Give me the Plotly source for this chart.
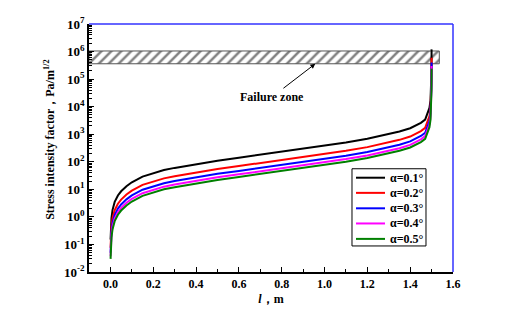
import math
import plotly.graph_objects as go

# ---- data ----
crack_length = [0.0008, 0.002, 0.005, 0.01, 0.02, 0.035, 0.05, 0.075, 0.1, 0.15,
                0.2, 0.25, 0.3, 0.4, 0.5, 0.6, 0.7, 0.8, 0.9, 1.0,
                1.1, 1.2, 1.3, 1.35, 1.4, 1.43, 1.45, 1.47, 1.48, 1.49,
                1.495, 1.498, 1.4995, 1.5]

k_a01 = [0.15, 0.36, 0.9, 1.8, 3.5, 6.0, 8.5, 13, 18, 29,
         39, 50, 60, 83, 110, 140, 180, 230, 290, 380,
         500, 680, 1000, 1250, 1650, 2100, 2600, 3400, 5200, 9000,
         17000, 45000, 200000, 1200000]
k_a02 = [0.075, 0.18, 0.45, 0.9, 1.75, 3.0, 4.25, 6.5, 9, 14.5,
         19.5, 25, 30, 41.5, 55, 70, 90, 115, 145, 190,
         250, 340, 500, 625, 825, 1050, 1300, 1700, 2600, 4500,
         8500, 22500, 100000, 600000]
k_a03 = [0.05, 0.12, 0.3, 0.6, 1.17, 2.0, 2.83, 4.33, 6, 9.67,
         13, 16.7, 20, 27.7, 36.7, 46.7, 60, 76.7, 96.7, 127,
         167, 227, 333, 417, 550, 700, 867, 1130, 1730, 3000,
         5670, 15000, 66700, 400000]
k_a04 = [0.0375, 0.09, 0.225, 0.45, 0.875, 1.5, 2.125, 3.25, 4.5, 7.25,
         9.75, 12.5, 15, 20.75, 27.5, 35, 45, 57.5, 72.5, 95,
         125, 170, 250, 312, 412, 525, 650, 850, 1300, 2250,
         4250, 11250, 50000, 300000]
k_a05 = [0.03, 0.072, 0.18, 0.36, 0.7, 1.2, 1.7, 2.6, 3.6, 5.8,
         7.8, 10, 12, 16.6, 22, 28, 36, 46, 58, 76,
         100, 136, 200, 250, 330, 420, 520, 680, 1040, 1800,
         3400, 9000, 40000, 240000]

series_names = ["α=0.1°", "α=0.2°", "α=0.3°", "α=0.4°", "α=0.5°"]
series_values = [k_a01, k_a02, k_a03, k_a04, k_a05]
series_colors = ["#000000", "#ff0000", "#0000ff", "#ff00ff", "#008000"]

failure_zone_l = [-0.1, 1.536]
failure_zone_k = [3.6e5, 1.05e6]
arrow_target_l = 0.957

y_tick_exponents = [-2, -1, 0, 1, 2, 3, 4, 5, 6, 7]
x_ticks = [0.0, 0.2, 0.4, 0.6, 0.8, 1.0, 1.2, 1.4, 1.6]

FONT = "Liberation Serif"

fig = go.Figure()

# failure zone (hatched box)
zx0, zx1 = failure_zone_l
zy0, zy1 = failure_zone_k
fig.add_trace(go.Scatter(
    x=[zx0, zx1, zx1, zx0, zx0], y=[zy0, zy0, zy1, zy1, zy0],
    mode="lines", fill="toself", fillcolor="white",
    fillpattern=dict(shape="/", fgcolor="#000000", bgcolor="white", size=7, solidity=0.35),
    line=dict(color="#555555", width=1), showlegend=False, hoverinfo="skip"))

for name, vals, col in zip(series_names, series_values, series_colors):
    fig.add_trace(go.Scatter(x=crack_length, y=vals, mode="lines", name=name,
                             line=dict(color=col, width=2), showlegend=False))

# minor log ticks
minor_y = [m * 10.0 ** e for e in y_tick_exponents[:-1] for m in range(2, 10)]

# hand-drawn legend box (paper coordinates)
leg_x0, leg_x1, leg_y0, leg_y1 = 0.7225, 0.9258, 0.105, 0.4163
leg_line_x0, leg_line_x1, leg_text_x = 0.7335, 0.8132, 0.8214
leg_rows = [0.3802, 0.3191, 0.2568, 0.1957, 0.1335]

shapes = [
    dict(type="line", xref="paper", yref="paper", x0=0, x1=1, y0=1, y1=1,
         line=dict(color="#3333ff", width=1.5)),
    dict(type="line", xref="paper", yref="paper", x0=1, x1=1, y0=0, y1=1,
         line=dict(color="#3333ff", width=1.5)),
    dict(type="rect", xref="paper", yref="paper", x0=leg_x0, x1=leg_x1, y0=leg_y0, y1=leg_y1,
         line=dict(color="black", width=1), fillcolor="white", layer="above"),
]
annotations = [
    dict(x=arrow_target_l, y=math.log10(zy0), xref="x", yref="y",
         text="<b>Failure zone</b>",
         showarrow=True, arrowhead=2, arrowsize=1, arrowwidth=1, arrowcolor="black",
         ax=-43, ay=33, font=dict(family=FONT, size=12, color="black")),
    dict(x=-0.107, y=0.533, xref="paper", yref="paper", textangle=-90,
         text="<b>Stress intensity factor，Pa/m<sup>1/2</sup></b>", showarrow=False,
         xanchor="center", yanchor="middle", font=dict(family=FONT, size=12, color="black")),
]
for name, col, ry in zip(series_names, series_colors, leg_rows):
    shapes.append(dict(type="line", xref="paper", yref="paper", x0=leg_line_x0, x1=leg_line_x1,
                       y0=ry, y1=ry, line=dict(color=col, width=2), layer="above"))
    annotations.append(dict(x=leg_text_x, y=ry, xref="paper", yref="paper", text=f"<b>{name}</b>",
                            showarrow=False, xanchor="left", yanchor="middle",
                            font=dict(family=FONT, size=12, color="black")))

# page body has an 8px margin; the figure is sized to compensate
fig.update_layout(
    width=513, height=307,
    margin=dict(l=81, r=68, t=7, b=43),
    plot_bgcolor="white", paper_bgcolor="white",
    font=dict(family=FONT, size=12, color="black"),
    showlegend=False,
    xaxis=dict(
        range=[-0.1, 1.6], tickvals=x_ticks,
        ticktext=[f"{v:.1f}" for v in x_ticks],
        ticks="inside", ticklen=5, tickwidth=1.2, tickcolor="black",
        showline=True, linecolor="black", linewidth=1.5,
        showgrid=False, zeroline=False,
        tickfont=dict(family=FONT, size=12, weight="bold"),
        minor=dict(dtick=0.1, tick0=0, ticks="inside", ticklen=3, tickcolor="black", showgrid=False),
        title=dict(text="<i>l</i>，m", font=dict(family=FONT, size=12, weight="bold"), standoff=4),
    ),
    yaxis=dict(
        type="log", range=[-2, 7],
        tickvals=[10.0 ** e for e in y_tick_exponents],
        ticktext=[f"10<sup>{e}</sup>" for e in y_tick_exponents],
        ticks="inside", ticklen=5, tickwidth=1.2, tickcolor="black",
        showline=True, linecolor="black", linewidth=1.5,
        showgrid=False, zeroline=False, ticklabeloverflow="allow",
        tickfont=dict(family=FONT, size=13, weight="bold"),
        minor=dict(tickvals=minor_y, ticks="inside", ticklen=3, tickcolor="black", showgrid=False),
    ),
    shapes=shapes,
    annotations=annotations,
)

fig.write_html("out.html")
